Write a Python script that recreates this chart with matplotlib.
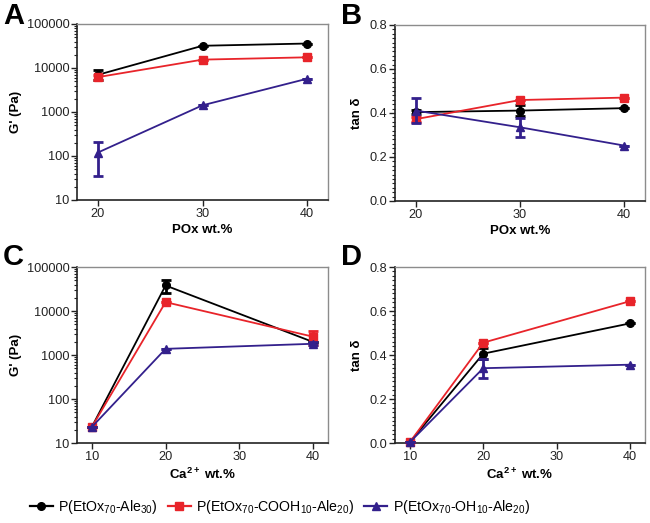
import matplotlib
matplotlib.use("Agg")
import matplotlib.pyplot as plt
import numpy as np
from matplotlib.lines import Line2D
from matplotlib.ticker import FixedLocator, FuncFormatter, LogLocator, MultipleLocator, NullFormatter

plt.rcParams['font.family'] = ['Liberation Sans', 'DejaVu Sans']

# ---------------- data ----------------
pox = [20, 30, 40]
ca = [10, 20, 40]

series_names = [r'P(EtOx$_\mathregular{70}$-Ale$_\mathregular{30}$)',
                r'P(EtOx$_\mathregular{70}$-COOH$_\mathregular{10}$-Ale$_\mathregular{20}$)',
                r'P(EtOx$_\mathregular{70}$-OH$_\mathregular{10}$-Ale$_\mathregular{20}$)']

# Panel A: G' vs POx wt.%
A_ale = [7000, 32000, 36000]
A_ale_err = [1800, 0, 0]
A_cooh = [6200, 15500, 17500]
A_cooh_err = [900, 0, 0]
A_oh = [120, 1420, 5700]
A_oh_err = [85, 0, 0]

# Panel B: tan delta vs POx wt.%
B_ale = [0.404, 0.411, 0.422]
B_ale_err = [0.01, 0.025, 0.0]
B_cooh = [0.372, 0.459, 0.470]
B_cooh_err = [0.012, 0.0, 0.0]
B_oh = [0.411, 0.335, 0.252]
B_oh_err = [0.056, 0.042, 0.0]

# Panel C: G' vs Ca2+ wt.%
C_ale = [23, 38000, 1970]
C_ale_err = [0, 13000, 0]
C_cooh = [23, 15900, 2600]
C_cooh_err = [0, 0, 900]
C_oh = [23, 1380, 1800]
C_oh_err = [0, 0, 150]

# Panel D: tan delta vs Ca2+ wt.%
D_ale = [0.003, 0.406, 0.544]
D_ale_err = [0.0, 0.025, 0.0]
D_cooh = [0.003, 0.456, 0.645]
D_cooh_err = [0.0, 0.0, 0.0]
D_oh = [0.003, 0.340, 0.356]
D_oh_err = [0.0, 0.043, 0.0]

colors = ['#000000', '#e8242a', '#33208c']
markers = ['o', 's', '^']

# ---------------- figure ----------------
W, H = 650, 523
fig = plt.figure(figsize=(6.5, 5.23), dpi=100)

def ax_at(l, t, r, b):
    return fig.add_axes([l / W, 1 - b / H, (r - l) / W, (b - t) / H])

axA = ax_at(77, 24, 328, 200)
axB = ax_at(395, 25, 645, 201)
axC = ax_at(77, 267, 328, 443)
axD = ax_at(395, 267, 645, 443)

def style(ax):
    for s in ['left', 'bottom']:
        ax.spines[s].set_color('#222222')
        ax.spines[s].set_linewidth(1.2)
    for s in ['top', 'right']:
        ax.spines[s].set_color('#8c8c8c')
        ax.spines[s].set_linewidth(1.0)
    ax.tick_params(axis='both', which='major', direction='out', length=4, width=1.0,
                   labelsize=9.2, colors='#222222', pad=1.5)
    ax.tick_params(axis='both', which='minor', direction='out', length=2, width=0.8,
                   colors='#222222')
    ax.tick_params(axis='x', which='minor', bottom=False)

def draw(ax, x, ys, errs):
    for i, (y, e) in enumerate(zip(ys, errs)):
        ax.errorbar(x, y, yerr=e, color=colors[i], marker=markers[i], markersize=5.5,
                    linewidth=1.3, elinewidth=2.0, capsize=3.5, capthick=2.0,
                    zorder=3 + i, clip_on=False)

def log_axis(ax):
    ax.set_yscale('log')
    ax.set_ylim(10, 100000)
    ax.yaxis.set_major_locator(FixedLocator([10, 100, 1000, 10000, 100000]))
    ax.yaxis.set_major_formatter(FuncFormatter(lambda v, p: f'{int(round(v))}'))
    ax.yaxis.set_minor_locator(LogLocator(base=10, subs=np.arange(2, 10)))
    ax.yaxis.set_minor_formatter(NullFormatter())
    ax.set_ylabel("G' (Pa)", fontsize=9.5, fontweight='bold', labelpad=3)

def tan_axis(ax):
    ax.set_ylim(0, 0.8)
    ax.yaxis.set_major_locator(MultipleLocator(0.2))
    ax.yaxis.set_minor_locator(MultipleLocator(0.02))
    ax.yaxis.set_major_formatter(FuncFormatter(lambda v, p: f'{v:.1f}'))
    ax.set_ylabel('tan δ', fontsize=9.5, fontweight='bold', labelpad=5)

for ax in [axA, axB, axC, axD]:
    style(ax)

draw(axA, pox, [A_ale, A_cooh, A_oh], [A_ale_err, A_cooh_err, A_oh_err])
log_axis(axA)
axA.set_xlim(18, 42)
axA.set_xticks(pox)
axA.set_xlabel('POx wt.%', fontsize=9.5, fontweight='bold', labelpad=3)

draw(axB, pox, [B_ale, B_cooh, B_oh], [B_ale_err, B_cooh_err, B_oh_err])
tan_axis(axB)
axB.set_xlim(18, 42)
axB.set_xticks(pox)
axB.set_xlabel('POx wt.%', fontsize=9.5, fontweight='bold', labelpad=3)

draw(axC, ca, [C_ale, C_cooh, C_oh], [C_ale_err, C_cooh_err, C_oh_err])
log_axis(axC)
axC.set_xlim(8, 42)
axC.set_xticks([10, 20, 30, 40])
axC.set_xlabel(r'Ca$^\mathregular{2+}$ wt.%', fontsize=9.5, fontweight='bold', labelpad=3)

draw(axD, ca, [D_ale, D_cooh, D_oh], [D_ale_err, D_cooh_err, D_oh_err])
tan_axis(axD)
axD.set_xlim(8, 42)
axD.set_xticks([10, 20, 30, 40])
axD.set_xlabel(r'Ca$^\mathregular{2+}$ wt.%', fontsize=9.5, fontweight='bold', labelpad=3)

# panel letters
for lab, x, y in [('A', 3, 2), ('B', 341, 2), ('C', 3, 243), ('D', 341, 243)]:
    fig.text(x / W, 1 - y / H, lab, fontsize=21, fontweight='bold', ha='left', va='top')

# legend (line + marker handles)
handles = [Line2D([], [], color=colors[i], marker=markers[i], markersize=5.5, linewidth=1.6)
           for i in range(3)]
leg = fig.legend(handles, series_names, loc='center', bbox_to_anchor=(280 / W, 1 - 507 / H),
                 ncol=3, frameon=False, fontsize=10.2, handlelength=1.6,
                 handletextpad=0.4, columnspacing=0.7, borderaxespad=0)

fig.savefig('out.png', dpi=100)
